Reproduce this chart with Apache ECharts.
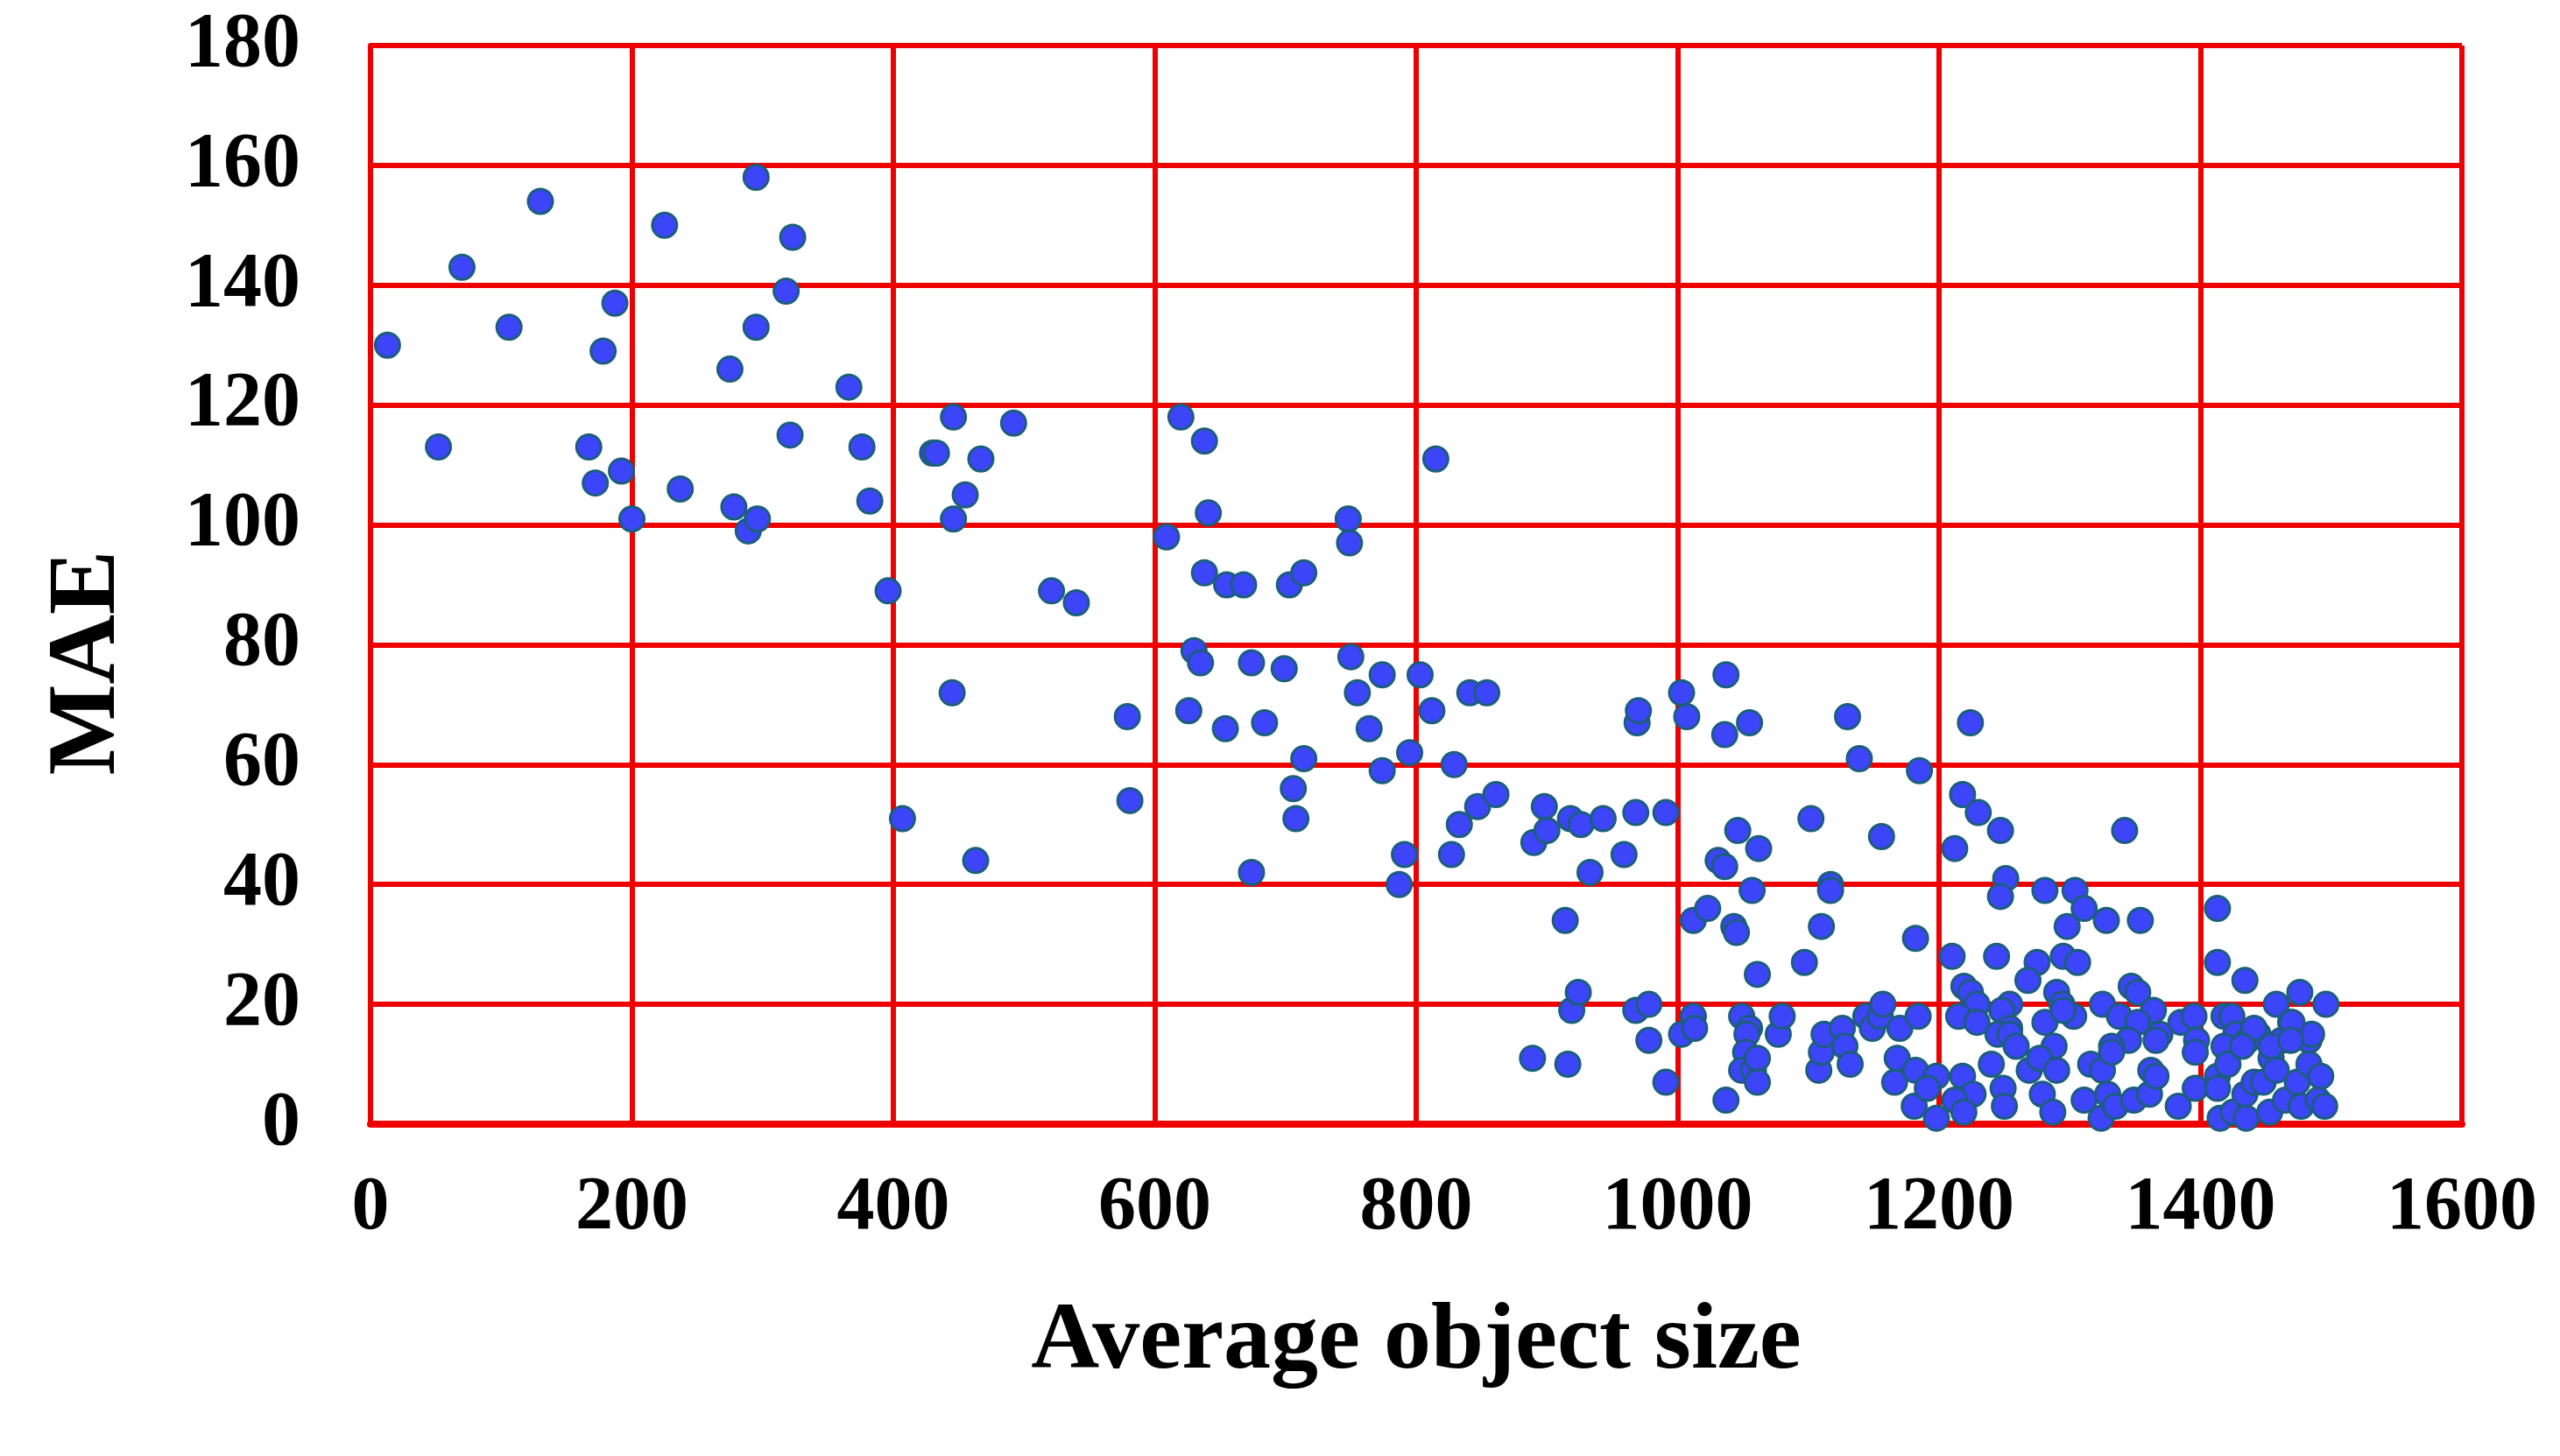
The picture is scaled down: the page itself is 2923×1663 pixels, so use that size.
<!DOCTYPE html>
<html>
<head>
<meta charset="utf-8">
<title>MAE vs Average object size</title>
<script src="https://cdn.jsdelivr.net/npm/echarts@6/dist/echarts.min.js"></script>
<style>
  html, body { margin: 0; padding: 0; background: #fff; }
  #chart { width: 2923px; height: 1663px; }
</style>
</head>
<body>
<div id="chart"></div>
<script>
// 数据：[平均目标尺寸, MAE]，按尺寸区间分组
const sizeBand0 = [
  [13,130],[52,113],[70,143],[106,133],[130,154],[167,113],[172,107],[178,129],[187,137],
  [192,109],[200,101],[225,150],[237,106],[275,126],[278,103],[289,99],[295,158],[295,133],
  [296,101],[318,139],[321,115],[323,148],[366,123],[376,113],[382,104],[396,89],[407,51],
  [430,112],[433,112],[446,118],[446,101],[445,72],[455,105],[463,44],[467,111],[492,117]
];
const sizeBand1 = [
  [521,89],[540,87],[579,68],[581,54],[609,98],[620,118],[626,69],[630,79],[635,77],[638,92],
  [641,102],[638,114],[654,66],[655,90],[668,90],[674,77],[674,42],[684,67],[699,76],[703,90],
  [706,56],[708,51],[714,92],[714,61],[748,101],[749,97],[750,78],[755,72],[764,66],[774,75],
  [774,59],[787,40],[791,45],[795,62],[803,75],[812,69],[815,111],[827,45],[829,60],[833,50],
  [841,72],[847,53],[854,72],[861,55]
];
const sizeBand2 = [
  [889,11],[890,47],[898,53],[900,49],[914,34],[916,10],[918,51],[919,19],[924,22],[926,50],
  [933,42],[943,51],[959,45],[968,52],[968,19],[969,67],[970,69],[978,20],[978,14],[991,52],
  [991,7],[1003,72],[1007,68],[1003,15],[1012,18],[1013,16],[1012,34],[1023,36],[1031,44],
  [1036,43],[1037,75],[1036,65],[1037,4],[1043,33],[1045,32],[1046,49],[1049,18],[1055,16],
  [1053,15],[1052,12],[1049,9],[1058,9],[1055,67],[1057,39],[1061,11],[1061,7],[1061,25],
  [1062,46],[1077,15],[1080,18],[1097,27],[1102,51],[1110,33],[1108,9],[1110,12],[1112,15],
  [1117,40],[1117,39],[1126,16],[1128,13],[1130,68],[1132,10],[1139,61],[1144,18],[1149,16],
  [1155,18],[1156,48],[1157,20],[1166,7],[1168,11],[1170,16],[1182,31],[1181,3],[1182,9],
  [1184,18],[1185,59]
];
const sizeBand3 = [
  [1218,55],[1224,67],[1230,52],[1247,49],[1212,46],[1342,49],[1251,41],[1247,38],[1281,39],
  [1304,39],[1311,36],[1328,34],[1354,34],[1298,33],[1413,36],[1210,28],[1244,28],[1275,27],
  [1295,28],[1306,27],[1413,27],[1268,24],[1434,24],[1219,23],[1224,22],[1290,22],[1347,23],
  [1352,22],[1476,22],[1229,20],[1254,20],[1294,20],[1325,20],[1458,20],[1496,20],[1215,18],
  [1248,19],[1281,17],[1303,18],[1295,19],[1338,18],[1364,19],[1352,17],[1385,17],[1395,18],
  [1418,18],[1424,18],[1469,17],[1229,17],[1254,16],[1245,15],[1254,15],[1259,13],[1288,13],
  [1345,14],[1332,13],[1369,15],[1366,14],[1397,14],[1396,12],[1427,15],[1436,14],[1444,15],
  [1462,14],[1483,14],[1485,15],[1470,17],[1441,16],[1418,13]
];
const sizeBand4 = [
  [1198,8],[1191,6],[1198,1],[1218,8],[1240,10],[1226,5],[1212,4],[1219,2],[1249,6],[1250,3],
  [1269,9],[1277,11],[1290,9],[1279,5],[1287,2],[1316,10],[1325,9],[1332,12],[1311,4],[1324,1],
  [1329,5],[1335,3],[1349,4],[1361,5],[1362,9],[1366,8],[1383,3],[1396,6],[1413,8],[1413,6],
  [1421,10],[1415,1],[1425,2],[1434,5],[1435,1],[1441,7],[1448,7],[1454,11],[1458,9],[1453,2],
  [1465,4],[1474,7],[1477,3],[1483,10],[1492,8],[1490,4],[1495,3],[1432,13],[1454,13],[1469,14]
];

const xTicks = [0, 1600, 200];   // min, max, interval
const yTicks = [0, 180, 20];

const points = [].concat(sizeBand0, sizeBand1, sizeBand2, sizeBand3, sizeBand4);

const FONT = "'Liberation Serif', 'Times New Roman', serif";
const RED = '#EE0000';

let myChart = echarts.init(document.getElementById('chart'));

myChart.setOption({
    animation: false,
    backgroundColor: '#fff',
    grid: {
        left: 423,
        right: 112,
        top: 52,
        bottom: 379
    },
    xAxis: {
        type: 'value',
        min: xTicks[0],
        max: xTicks[1],
        interval: xTicks[2],
        name: 'Average object size',
        nameLocation: 'middle',
        nameGap: 196,
        nameTextStyle: {
            fontFamily: FONT,
            fontWeight: 'bold',
            fontSize: 108,
            color: '#000'
        },
        axisLine: { show: true, lineStyle: { color: RED, width: 8 } },
        axisTick: { show: false },
        axisLabel: {
            margin: 54,
            fontFamily: FONT,
            fontWeight: 'bold',
            fontSize: 86,
            color: '#000',
            formatter: v => String(v)   // 不要千分位逗号
        },
        splitLine: { show: true, lineStyle: { color: RED, width: 6 } }
    },
    yAxis: {
        type: 'value',
        min: yTicks[0],
        max: yTicks[1],
        interval: yTicks[2],
        axisLine: { show: true, lineStyle: { color: RED, width: 6 } },
        axisTick: { show: false },
        axisLabel: {
            margin: 80,
            fontFamily: FONT,
            fontWeight: 'bold',
            fontSize: 88,
            color: '#000'
        },
        splitLine: { show: true, lineStyle: { color: RED, width: 6 } }
    },
    // 纵轴标题单独放，位置比绘图区中心略低
    graphic: [
        {
            type: 'text',
            x: 102,
            y: 757,
            rotation: Math.PI / 2,
            style: {
                text: 'MAE',
                fontFamily: FONT,
                fontWeight: 'bold',
                fontSize: 110,
                fill: '#000',
                textAlign: 'center',
                textVerticalAlign: 'middle'
            }
        }
    ],
    series: [
        {
            type: 'scatter',
            clip: false,
            symbol: 'circle',
            symbolSize: 28,
            itemStyle: {
                color: '#3D45F8',
                borderColor: '#1B5E7C',
                borderWidth: 3,
                opacity: 1
            },
            data: points
        }
    ]
});
</script>
</body>
</html>
